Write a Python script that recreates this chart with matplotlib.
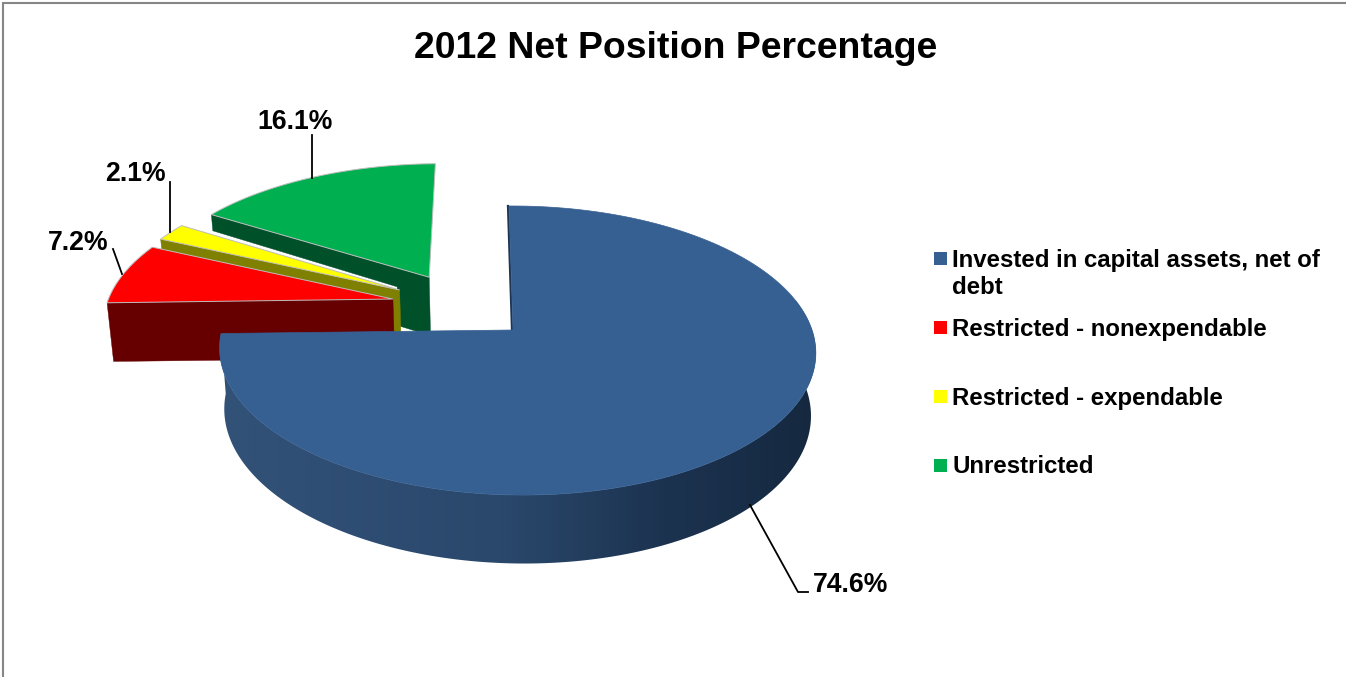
import matplotlib
matplotlib.use('Agg')
import matplotlib.pyplot as plt
import numpy as np
from matplotlib.colors import LinearSegmentedColormap
from matplotlib.patches import Polygon, Rectangle

plt.rcParams['font.family'] = ['Liberation Sans', 'DejaVu Sans']

title = '2012 Net Position Percentage'
categories = ['Invested in capital assets, net of\ndebt', 'Restricted - nonexpendable',
              'Restricted - expendable', 'Unrestricted']
values = [74.6, 7.2, 2.1, 16.1]
top_colors = ['#376092', '#FF0000', '#FFFF00', '#00B050']
wall_colors = ['#24405F', '#660000', '#7F7F00', '#00502A']

# how far every slice is pulled out of the pie (disc units)
explode_u = [0.0, -0.419, -0.398, -0.295]
explode_v = [0.0, 0.227, 0.296, 0.395]
slice_radius = [1.0, 1.02, 1.02, 1.02]

# camera of the fake 3D pie, all in pixels
CX, CY = 513, 330
RX, RY = 295, 141.6
PERSP_V, PERSP_U = 0.142, -0.0134
SHEAR = -4.6
DEPTH = 61


def project(u, v, depth=0.0):
    u = np.asarray(u, dtype=float)
    v = np.asarray(v, dtype=float)
    w = 1 + PERSP_V * v + PERSP_U * u
    s = 1 - 0.016 * depth / DEPTH
    x = CX + s * (RX * u + SHEAR * v) / w
    y = CY + (depth - s * RY * v) / w
    return np.column_stack([x, y])


def rim(t0, t1, i, n=120, depth=0.0):
    t = np.radians(np.linspace(t0, t1, n))
    r = slice_radius[i]
    return project(r * np.sin(t) + explode_u[i], r * np.cos(t) + explode_v[i], depth)


def edge(t, i, fracs, depths):
    # points on the straight cut from centre (frac 0) to the rim (frac 1)
    t = np.radians(t)
    r = slice_radius[i]
    pts = [project(r * f * np.sin(t) + explode_u[i], r * f * np.cos(t) + explode_v[i], d)[0]
           for f, d in zip(fracs, depths)]
    return np.array(pts)


def main():
    fig = plt.figure(figsize=(13.46, 6.77), dpi=100)
    ax = fig.add_axes([0, 0, 1, 1])

    # chart frame, only top and left are inside the crop
    ax.plot([3, 3, 1346], [677, 3, 3], color='#868686', lw=1.5, solid_joinstyle='miter')

    bounds = np.concatenate([[0], np.cumsum(values)]) * 3.6
    start = bounds[:-1]
    stop = bounds[1:]

    # =========================================================================
    # Small slices, back to front
    outline = dict(edgecolor='#bdbdbd', lw=0.7)
    walls = {
        3: edge(start[3], 3, [1, 0, 0, 0.14, 0.14, 1], [0, 0, DEPTH, DEPTH, 20, 18]),
        2: edge(start[2], 2, [1, 0, 0, 1], [0, 0, DEPTH, DEPTH]),
        1: edge(start[1], 1, [1, 0, 0, 1], [0, 0, DEPTH, DEPTH]),
    }
    for i in [3, 2, 1]:
        ax.add_patch(Polygon(walls[i], facecolor=wall_colors[i], edgecolor=wall_colors[i], lw=0.3))
        centre = project(explode_u[i], explode_v[i])
        ax.add_patch(Polygon(np.vstack([centre, rim(start[i], stop[i], i)]),
                             facecolor=top_colors[i], **outline))

    # =========================================================================
    # Big slice: shaded side wall (gradient clipped to the outline), then the top
    shade = LinearSegmentedColormap.from_list(
        'wall', [(0.0, '#335278'), (0.47, '#2A486C'), (0.74, '#1C3350'), (1.0, '#15283F')])
    outer = np.vstack([rim(60, stop[0], 0, n=300), rim(stop[0], 60, 0, n=300, depth=DEPTH)])
    grad = ax.imshow(np.linspace(0, 1, 600)[None, :], cmap=shade, extent=(220, 820, 600, 300),
                     aspect='auto', zorder=1.5)
    grad.set_clip_path(Polygon(outer, transform=ax.transData))

    cut = edge(0, 0, [0, 1], [0, 0])
    ax.plot(cut[:, 0] - 1, cut[:, 1], color='#1E3552', lw=1.6, zorder=1.6)
    centre = project(0, 0)
    ax.add_patch(Polygon(np.vstack([centre, rim(start[0], stop[0], 0, n=400)]),
                         facecolor=top_colors[0], edgecolor=top_colors[0], lw=0.5, zorder=1.7))

    # =========================================================================
    # Data labels and leader lines
    label_font = dict(fontsize=19.2, fontweight='bold', color='black', ha='center', va='center')
    label_xy = [(851, 585), (78, 243), (135, 174), (295, 122)]
    leader_x = [[750, 798, 808], [113, 122], [170, 170], [312, 312]]
    leader_y = [[505, 592, 592], [249, 274], [182, 232], [135, 178]]
    for v, xy, lx, ly in zip(values, label_xy, leader_x, leader_y):
        ax.plot(lx, ly, color='black', lw=1.3, zorder=3)
        ax.text(xy[0], xy[1], f'{v:.1f}%', **label_font)

    ax.text(675.5, 48, title, fontsize=26.9, fontweight='bold', ha='center', va='center')

    # =========================================================================
    # Legend, spaced by hand like the original
    legend_y = [258.5, 327.5, 396.5, 465.5]
    legend_text_y = [274, 329.5, 398.5, 466.5]
    for name, col, y, ty in zip(categories, top_colors, legend_y, legend_text_y):
        ax.add_patch(Rectangle((934, y - 6.5), 13, 13, facecolor=col, edgecolor='none'))
        ax.text(952, ty, name, fontsize=17.3, fontweight='bold', ha='left', va='center', linespacing=1.25)

    ax.set_xlim(0, 1346)
    ax.set_ylim(677, 0)
    ax.axis('off')
    fig.savefig('out.png', dpi=100)


if __name__ == '__main__':
    main()
